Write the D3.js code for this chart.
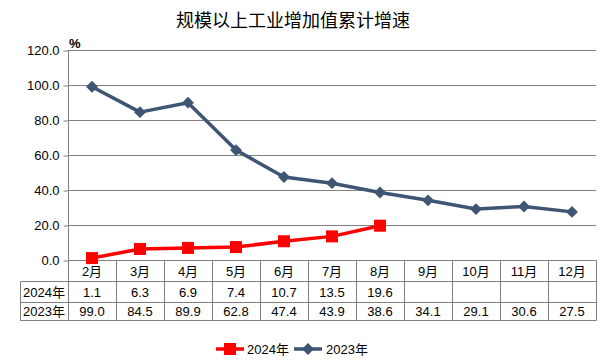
<!DOCTYPE html>
<html>
<head>
<meta charset="utf-8">
<script src="https://cdn.jsdelivr.net/npm/d3@7"></script>
<style>
  html, body { margin: 0; padding: 0; background: #fff; }
  svg { display: block; font-family: "Liberation Sans", Arial, "Noto Sans CJK SC", sans-serif; }
</style>
</head>
<body>
<div id="chart"></div>
<script>
const months = ["2月", "3月", "4月", "5月", "6月", "7月", "8月", "9月", "10月", "11月", "12月"];
const seriesNames = ["2024年", "2023年"];
const values2024 = [1.1, 6.3, 6.9, 7.4, 10.7, 13.5, 19.6];
const values2023 = [99.0, 84.5, 89.9, 62.8, 47.4, 43.9, 38.6, 34.1, 29.1, 30.6, 27.5];
const yTicks = [0, 20, 40, 60, 80, 100, 120];

const W = 602, H = 362;
const plot = { left: 68, right: 596, top: 50, bottom: 260 };
const rowH = [21, 20.5, 18.5];
const labelLeft = 20;
const RED = "#ff0000", BLUE = "#3e5574", GRID = "#808080";

const svg = d3.select("#chart").append("svg").attr("width", W).attr("height", H);

const x = d3.scaleBand().domain(months).range([plot.left, plot.right]);
const y = d3.scaleLinear().domain([0, 120]).range([plot.bottom, plot.top]);
const cx = d => x(d) + x.bandwidth() / 2;

// title
svg.append("text").attr("x", 293).attr("y", 27).attr("text-anchor", "middle")
  .style("font-family", "'Noto Sans CJK SC', sans-serif").style("font-size", "18px")
  .style("fill", "#000").text("规模以上工业增加值累计增速");

// gridlines
svg.append("g").selectAll("line").data(yTicks.filter(t => t > 0)).join("line")
  .attr("x1", plot.left).attr("x2", plot.right)
  .attr("y1", d => Math.round(y(d)) + 0.5).attr("y2", d => Math.round(y(d)) + 0.5)
  .attr("stroke", GRID).attr("stroke-width", 1);

// y axis
const yAxis = svg.append("g").attr("transform", `translate(${plot.left + 0.5},0.5)`)
  .call(d3.axisLeft(y).tickValues(yTicks).tickSize(5).tickPadding(4).tickFormat(d3.format(".1f")));
yAxis.select(".domain").attr("stroke", GRID).attr("d", `M0,${plot.top}V${plot.bottom}`);
yAxis.selectAll(".tick line").attr("stroke", GRID);
yAxis.selectAll(".tick text").style("font-size", "13px").style("fill", "#000")
  .style("font-family", "'Liberation Sans', Arial, sans-serif");

svg.append("text").attr("x", 69).attr("y", 48).style("font-size", "13px").style("font-weight", "bold")
  .text("%");

// data table
const tableTop = plot.bottom;
const r1 = tableTop + rowH[0], r2 = r1 + rowH[1], r3 = r2 + rowH[2];
const tbl = svg.append("g").attr("stroke", GRID).attr("stroke-width", 1).attr("fill", "none")
  .attr("transform", "translate(0.5,0.5)");
const rowY = [tableTop, r1, r2, r3].map(Math.round);
tbl.append("line").attr("x1", plot.left).attr("x2", plot.right).attr("y1", rowY[0]).attr("y2", rowY[0]);
[rowY[1], rowY[2], rowY[3]].forEach(yy =>
  tbl.append("line").attr("x1", labelLeft).attr("x2", plot.right).attr("y1", yy).attr("y2", yy));
tbl.append("line").attr("x1", labelLeft).attr("x2", labelLeft).attr("y1", rowY[1]).attr("y2", rowY[3]);
const colEdges = months.map(m => Math.round(x(m))).concat([plot.right]);
colEdges.forEach(xx =>
  tbl.append("line").attr("x1", xx).attr("x2", xx).attr("y1", rowY[0]).attr("y2", rowY[3]));

const txt = svg.append("g").style("font-size", "13px").style("fill", "#000").attr("text-anchor", "middle");
txt.selectAll("text.m").data(months).join("text").attr("class", "m")
  .attr("x", d => cx(d)).attr("y", (rowY[0] + rowY[1]) / 2 + 5).text(d => d);
const rows = [values2024, values2023];
rows.forEach((vals, ri) => {
  const yy = (rowY[ri + 1] + rowY[ri + 2]) / 2 + 5;
  txt.append("text").attr("x", (labelLeft + plot.left) / 2).attr("y", yy).text(seriesNames[ri]);
  txt.selectAll(`text.v${ri}`).data(vals).join("text").attr("class", `v${ri}`)
    .attr("x", (d, i) => cx(months[i])).attr("y", yy).text(d => d.toFixed(1));
});

// lines
const line = d3.line().x((d, i) => cx(months[i])).y(d => y(d));
svg.append("path").datum(values2023).attr("d", line).attr("fill", "none")
  .attr("stroke", BLUE).attr("stroke-width", 3.5).attr("stroke-linejoin", "round");
svg.append("g").selectAll("path").data(values2023).join("path")
  .attr("d", d3.symbol(d3.symbolDiamond2, 90))
  .attr("transform", (d, i) => `translate(${cx(months[i])},${y(d)})`).attr("fill", BLUE);

svg.append("path").datum(values2024).attr("d", line).attr("fill", "none")
  .attr("stroke", RED).attr("stroke-width", 3.5).attr("stroke-linejoin", "round");
svg.append("g").selectAll("rect").data(values2024).join("rect")
  .attr("x", (d, i) => cx(months[i]) - 6).attr("y", d => y(d) - 6)
  .attr("width", 12).attr("height", 12).attr("fill", RED);

// legend
const lg = svg.append("g").attr("transform", "translate(0,349)");
lg.append("line").attr("x1", 216).attr("x2", 244).attr("stroke", RED).attr("stroke-width", 3.5);
lg.append("rect").attr("x", 224).attr("y", -6).attr("width", 12).attr("height", 12).attr("fill", RED);
lg.append("text").attr("x", 247).attr("y", 5).style("font-size", "13px").text(seriesNames[0]);
lg.append("line").attr("x1", 294).attr("x2", 322).attr("stroke", BLUE).attr("stroke-width", 3.5);
lg.append("path").attr("d", d3.symbol(d3.symbolDiamond2, 90)).attr("transform", "translate(308,0)").attr("fill", BLUE);
lg.append("text").attr("x", 326).attr("y", 5).style("font-size", "13px").text(seriesNames[1]);
</script>
</body>
</html>
